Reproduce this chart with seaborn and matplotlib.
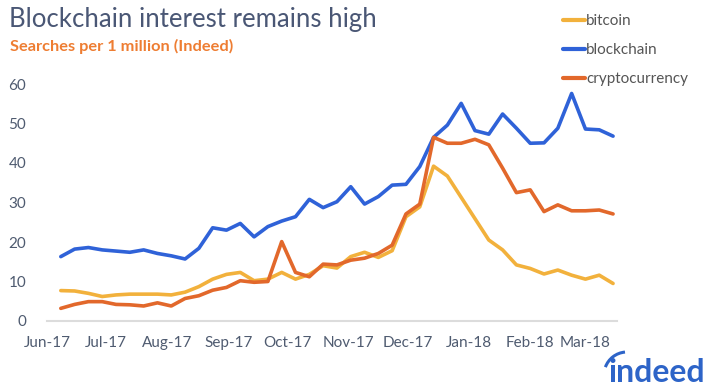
import matplotlib
matplotlib.use("Agg")
import matplotlib.pyplot as plt
import matplotlib.dates as mdates
from matplotlib.lines import Line2D
from matplotlib.patches import Arc
from matplotlib.transforms import IdentityTransform
import seaborn as sns
import pandas as pd


# weekly search shares
weeks = pd.date_range("2017-06-08", periods=41, freq="7D")

bitcoin = [7.7, 7.6, 7.0, 6.2, 6.6, 6.8, 6.8, 6.8, 6.6, 7.3,
           8.7, 10.6, 11.8, 12.3, 10.2, 10.6, 12.3, 10.6, 11.8, 14.0,
           13.4, 16.3, 17.4, 16.1, 17.8, 26.4, 28.9, 39.2, 36.7, 31.3,
           25.9, 20.5, 18.0, 14.2, 13.3, 11.9, 12.9, 11.6, 10.6, 11.6,
           9.5]
blockchain = [16.3, 18.2, 18.6, 18.0, 17.7, 17.4, 18.0, 17.1, 16.5, 15.7,
              18.4, 23.6, 23.0, 24.7, 21.3, 23.9, 25.3, 26.4, 30.8, 28.7,
              30.2, 34.0, 29.6, 31.5, 34.4, 34.6, 39.1, 46.5, 49.6, 55.1,
              48.2, 47.3, 52.4, 48.8, 45.0, 45.1, 48.8, 57.6, 48.6, 48.4,
              46.8]
cryptocurrency = [3.2, 4.2, 4.9, 4.9, 4.2, 4.1, 3.8, 4.6, 3.8, 5.7,
                  6.4, 7.8, 8.5, 10.2, 9.8, 10.0, 20.1, 12.3, 11.2, 14.4,
                  14.2, 15.4, 15.9, 17.1, 19.2, 27.1, 29.6, 46.5, 45.0, 45.0,
                  46.0, 44.6, 38.7, 32.5, 33.2, 27.7, 29.4, 27.9, 27.9, 28.1,
                  27.1]

series = ["bitcoin", "blockchain", "cryptocurrency"]
colors = ["#f2b13c", "#2f62d8", "#e2682b"]
yticks = [0, 10, 20, 30, 40, 50, 60]

df = pd.DataFrame({"week": weeks, "bitcoin": bitcoin,
                   "blockchain": blockchain, "cryptocurrency": cryptocurrency})
long_df = df.melt(id_vars="week", var_name="term", value_name="searches")

sns.set_style("white")
plt.rcParams["font.family"] = ["Lato", "DejaVu Sans"]

text_col = "#4f5b70"

fig = plt.figure(figsize=(7.14, 3.92), dpi=100)
ax = fig.add_axes([47 / 714, 1 - 321 / 392, 570 / 714, 237 / 392])

sns.lineplot(data=long_df, x="week", y="searches", hue="term",
             hue_order=series, palette=colors, linewidth=2.6,
             ax=ax, legend=False)

ax.set_xlim(pd.Timestamp("2017-06-01"), pd.Timestamp("2018-03-17"))
ax.set_ylim(0, 60)
ax.set_yticks(yticks)
ax.xaxis.set_major_locator(mdates.MonthLocator())
ax.xaxis.set_major_formatter(mdates.DateFormatter("%b-%y"))
ax.tick_params(axis="both", length=0, labelsize=11, labelcolor=text_col)
ax.tick_params(axis="y", pad=15)
ax.tick_params(axis="x", pad=11)
ax.set_xlabel("")
ax.set_ylabel("")
for side in ["top", "right", "left"]:
    ax.spines[side].set_visible(False)
ax.spines["bottom"].set_color("#dcdcdc")
ax.spines["bottom"].set_linewidth(1.5)

fig.text(9 / 714, 1 - 19 / 392, "Blockchain interest remains high",
         fontsize=18.5, color="#4a5775", va="center", ha="left")
fig.text(10 / 714, 1 - 46 / 392, "Searches per 1 million (Indeed)",
         fontsize=11.8, color="#ee7d32", fontweight="bold",
         va="center", ha="left")

handles = [Line2D([], [], color=c, linewidth=3) for c in colors]
fig.legend(handles, series, loc="upper left",
           bbox_to_anchor=(563 / 714, 1 - 14 / 392), frameon=False,
           fontsize=11, labelcolor="#555555", handlelength=1.45,
           handletextpad=0.05, labelspacing=0.98, borderpad=0,
           borderaxespad=0)

# indeed logo: word mark plus the arc over the "i" (pixel coordinates)
fig.text(657 / 714, 1 - 373 / 392, "indeed", fontsize=23, color="#2d64c8",
         fontweight="bold", ha="center", va="center")
fig.add_artist(Arc((627, 392 - 375), 46, 46, theta1=95, theta2=160,
                   color="#2d64c8", linewidth=2.2,
                   transform=IdentityTransform()))

fig.savefig("out.png", dpi=100)
